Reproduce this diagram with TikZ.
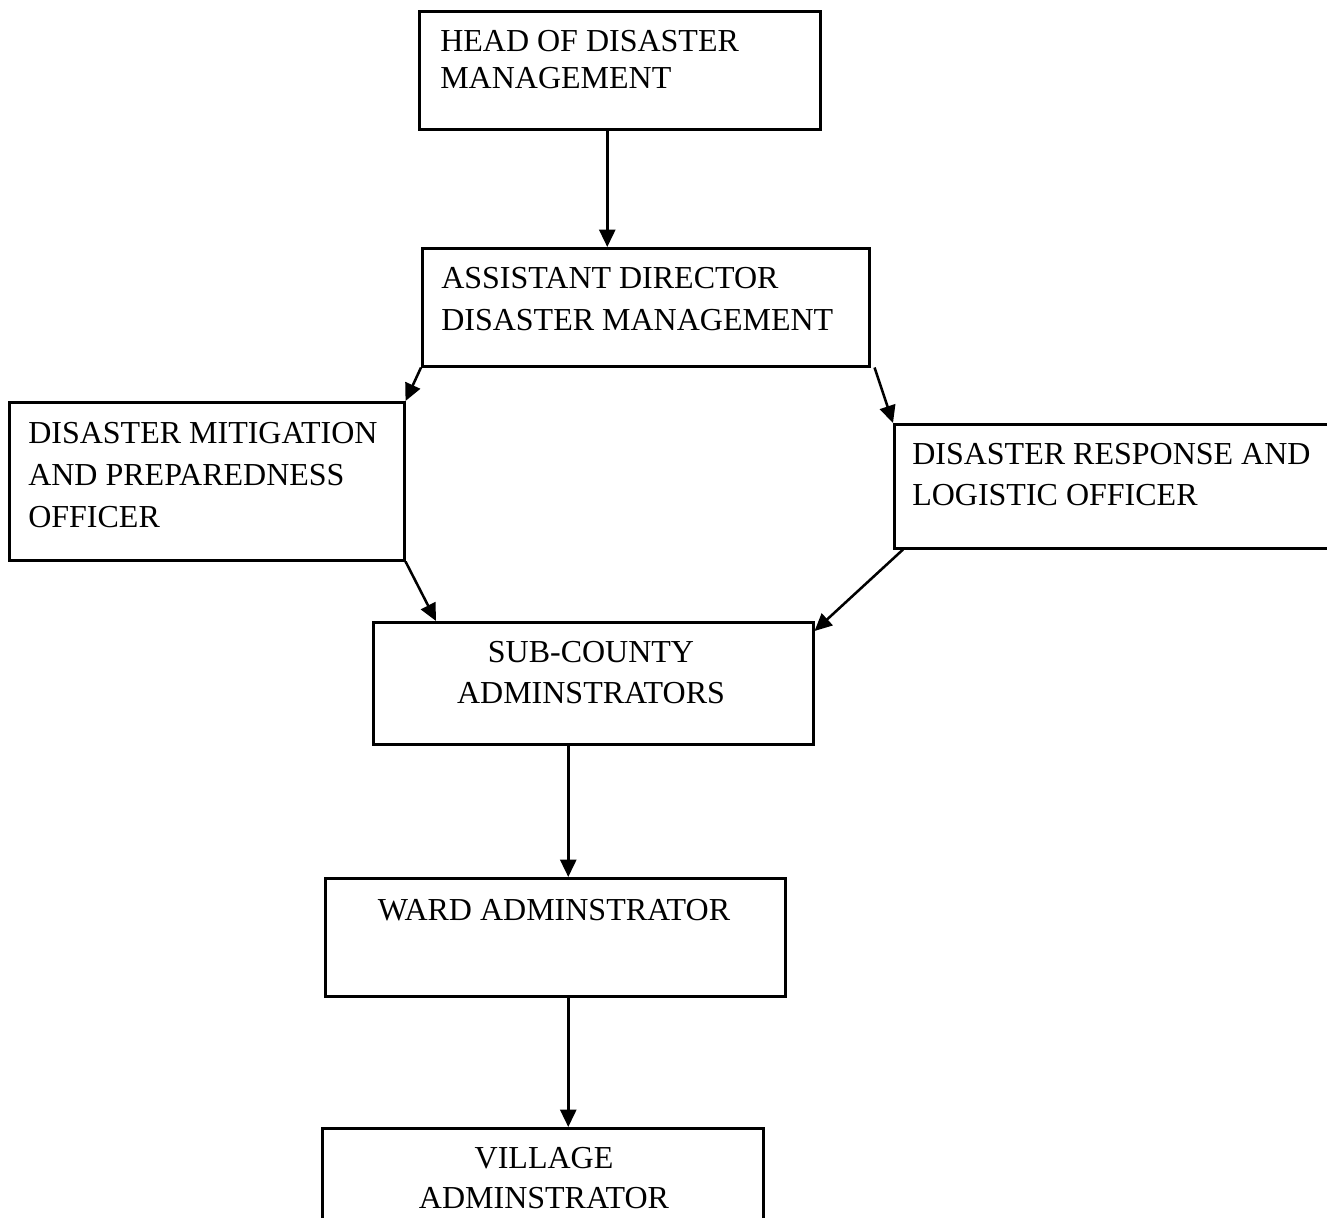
\documentclass[tikz,border=0pt]{standalone}
\usepackage{fontspec}
\setmainfont{Liberation Serif}
\usetikzlibrary{arrows.meta}
\begin{document}
\begin{tikzpicture}[x=0.75pt,y=-0.75pt,
  box/.style={draw=black,line width=1.9pt,rectangle,inner sep=0pt,anchor=north west},
  lbl/.style={inner sep=0pt,font=\fontsize{24}{31.5}\selectfont},
  arr/.style={line width=1.9pt,-{Triangle[length=13pt,width=12pt]}}]
\useasboundingbox (0,0) rectangle (1327,1217);
\clip (0,0) rectangle (1327,1217);
\fill[white] (0,0) rectangle (1327,1217);
% boxes
\node[box,minimum width=300.75pt,minimum height=88.5pt] (b1) at (418,10) {};
\node[box,minimum width=335.25pt,minimum height=88.5pt] (b2) at (421,247) {};
\node[box,minimum width=296.25pt,minimum height=118.5pt] (b3) at (8,401) {};
\node[box,minimum width=335.25pt,minimum height=93pt] (b4) at (893,423) {};
\node[box,minimum width=330pt,minimum height=91.5pt] (b5) at (372,621) {};
\node[box,minimum width=345pt,minimum height=88.5pt] (b6) at (324,877) {};
\node[box,minimum width=330.75pt,minimum height=90pt] (b7) at (321,1127) {};
% texts
\node[lbl,anchor=north west,align=left,font=\fontsize{24}{27.75}\selectfont] (t1) at (440,30) {HEAD OF DISASTER\\MANAGEMENT};
\node[lbl,anchor=north west,align=left] (t2) at (441,267) {ASSISTANT DIRECTOR\\DISASTER MANAGEMENT};
\node[lbl,anchor=north west,align=left] (t3) at (28,422) {DISASTER MITIGATION\\AND PREPAREDNESS\\OFFICER};
\node[lbl,anchor=north west,align=left,font=\fontsize{24}{30.75}\selectfont] (t4) at (912,443) {DISASTER RESPONSE AND\\LOGISTIC OFFICER};
\node[lbl,anchor=north,align=center,font=\fontsize{24}{30.75}\selectfont] (t5) at (591,641) {SUB-COUNTY\\ADMINSTRATORS};
\node[lbl,anchor=north,align=center] (t6) at (554,899) {WARD ADMINSTRATOR};
\node[lbl,anchor=north,align=center,font=\fontsize{24}{30}\selectfont] (t7) at (544,1147) {VILLAGE\\ADMINSTRATOR};
% connectors
\draw[arr] ([shift={(-12.5,0)}]b1.south) -- ([shift={(-38.5,0)}]b2.north);
\draw[arr] (b2.south west) -- (b3.north east);
\draw[arr] ([shift={(4,0)}]b2.south east) -- (b4.north west);
\draw[arr] (b3.south east) -- ([shift={(64,0)}]b5.north west);
\draw[arr] ([shift={(10,0)}]b4.south west) -- ([shift={(0,10)}]b5.north east);
\draw[arr] ([shift={(-25,0)}]b5.south) -- ([shift={(13,0)}]b6.north);
\draw[arr] ([shift={(13,0)}]b6.south) -- ([shift={(25.5,0)}]b7.north);
\end{tikzpicture}
\end{document}
